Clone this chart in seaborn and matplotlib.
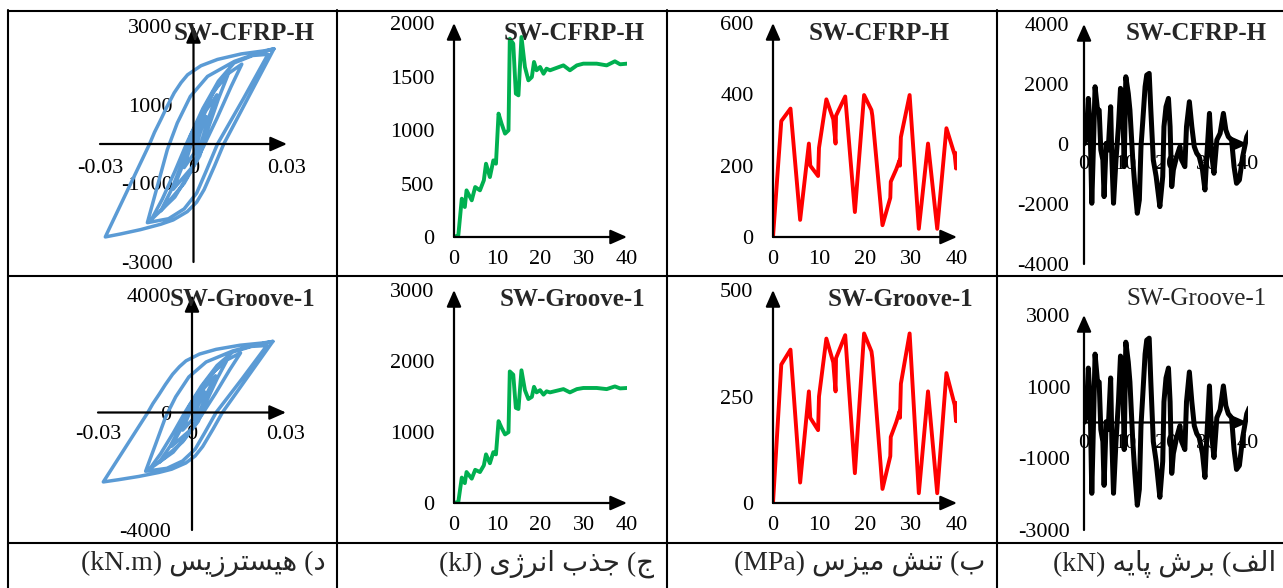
import matplotlib
matplotlib.use("Agg")
import matplotlib.pyplot as plt
from matplotlib.lines import Line2D
import seaborn as sns

# ---------------- data ----------------
titles_top = ["SW-CFRP-H", "SW-CFRP-H", "SW-CFRP-H", "SW-CFRP-H"]
titles_bottom = ["SW-Groove-1", "SW-Groove-1", "SW-Groove-1", "SW-Groove-1"]

# captions: (Persian label in logical order, unit)
caption_labels = ["د) هیسترزیس", "ج) جذب انرژی", "ب) تنش میزس", "الف) برش پایه"]
caption_units = ["(kN.m)", "(kJ)", "(MPa)", "(kN)"]

# hysteresis: drift vs moment (kN.m)
drift = [0, 0.002, 0.004, 0.002, 0.0005, -0.003, -0.0015, 0.0005,
         0.004, 0.0075, 0.005, 0.0025, 0, -0.0065, -0.004, -0.0015, 0.002,
         0.0065, 0.011, 0.008, 0.0045, 0.002, -0.003, -0.0105, -0.007, -0.0035, -0.001,
         0.004, 0.0095, 0.0155, 0.012, 0.0075, 0.003, -0.001, -0.006, -0.0135,
         -0.010, -0.006, -0.002, 0.003, 0.008, 0.013, 0.019, 0.0239,
         0.016, 0.0077, 0.004, 0.001, -0.003, -0.008, -0.0148,
         -0.0116, -0.0084, -0.0052, -0.001, 0.0045, 0.0131, 0.0196, 0.0258,
         0.0097, 0.0067, 0.0034, 0.001, -0.002, -0.0065, -0.0105, -0.017, -0.0234, -0.0283,
         -0.0141, -0.0125, -0.0105, -0.0085, -0.0062, -0.004, -0.0019, 0.0024, 0.0077,
         0.0153, 0.0228, 0.0258]
moment = [0, 400, 700, 250, -200, -600, -200, 300,
          850, 1250, 700, 50, -550, -1150, -650, 0, 650,
          1350, 1750, 1150, 350, -300, -1000, -1700, -1150, -450, 200,
          1000, 1700, 2030, 1450, 650, -100, -700, -1350, -1920,
          -1400, -700, 50, 900, 1600, 2060, 2250, 2280,
          1150, 0, -700, -1250, -1650, -1900, -2000,
          -1076, -144, 534, 1211, 1719, 2100, 2280, 2420,
          0, -567, -1160, -1480, -1720, -1930, -2040, -2177, -2287, -2363,
          0, 300, 618, 950, 1300, 1560, 1760, 1990, 2150,
          2290, 2370, 2420]

# energy absorption (kJ)
energy_step = [0, 1.0, 1.4, 1.8, 2.5, 2.9, 4.1, 4.9, 6.0, 6.9, 7.4, 8.3, 9.1, 9.7, 10.3, 11.0,
               11.8, 12.6, 12.9, 13.7, 14.3, 14.9, 15.6, 16.4, 17.2, 18.0, 18.5, 19.1, 19.9, 20.7,
               21.4, 22.2, 25.3, 26.8, 28.4, 29.9, 33.0, 35.3, 37.2, 38.4, 40.0]
energy = [0, 16, 187, 358, 280, 436, 343, 467, 436, 530, 685, 560, 716, 685, 1153, 1059,
          966, 997, 1853, 1807, 1340, 1324, 1869, 1589, 1464, 1495, 1636, 1558, 1589, 1526,
          1573, 1558, 1604, 1558, 1604, 1620, 1620, 1604, 1642, 1614, 1620]

# von Mises stress (MPa)
stress_step = [0, 1.8, 3.8, 5.9, 7.8, 8.1, 9.8, 10.0, 11.6, 13.1, 13.6, 13.7, 15.7, 17.8, 19.8,
               21.4, 21.6, 23.8, 25.5, 25.6, 26.8, 27.5, 27.6, 27.8, 29.7, 31.7, 33.7, 35.7,
               37.7, 39.5, 39.8, 39.8]
stress = [0, 325, 360, 48, 262, 200, 171, 250, 386, 330, 262, 340, 394, 70, 398,
          356, 340, 33, 110, 155, 190, 215, 200, 280, 398, 23, 262, 23,
          305, 230, 192, 235]

# base shear (kN)
shear_step = [0, 0.5, 1.06, 1.5, 1.9, 2.3, 2.7, 3.3, 3.7, 4.1, 4.6, 4.9, 5.4, 5.9, 6.5, 6.8,
              7.2, 7.8, 8.4, 8.9, 9.4, 9.8, 10.2, 10.8, 11.2, 11.9, 12.4, 13.0, 13.5, 13.9,
              14.3, 14.9, 15.3, 15.9, 16.3, 16.9, 17.6, 18.1, 18.5, 19.2, 19.5, 20.0, 20.6,
              21.0, 21.4, 21.8, 22.6, 23.4, 23.8, 24.6, 25.0, 25.7, 26.3, 26.9, 27.5, 28.1,
              28.9, 29.5, 29.9, 30.6, 31.1, 31.7, 32.4, 33.2, 34.0, 34.6, 35.2, 36.0, 36.6,
              37.2, 37.9, 38.7, 39.7, 40.3]
shear = [0, 130, 1520, 580, -1976, -90, 1909, 1130, 1130, -200, -530, -1754, 22, -200, 1243, -530,
         -1976, -530, 577, 1854, 1687, -755, 2242, 1687, 1130, -530, -1420, -2309, -1865, -90,
         690, 1910, 2298, 2354, 1130, -530, -1087, -1643, -2087, -1087, 577, 1243, 1520,
         577, -1420, -865, -420, -90, -530, -755, 577, 1410, 577, -90, -310, -420,
         -865, -1532, -530, 1021, -310, -977, 133, 355, 1021, 466, 244, 133, -755,
         -1310, -1200, -420, 244, 410]

# axis ranges and tick labels
hyst_xticks = [-0.03, 0, 0.03]
hyst_xlabels = ["-0.03", "0", "0.03"]
hyst_yticks_top = [-3000, -1000, 1000, 3000]
hyst_yticks_bottom = [-4000, 0, 4000]
step_ticks = [0, 10, 20, 30, 40]
energy_yticks_top = [0, 500, 1000, 1500, 2000]
energy_yticks_bottom = [0, 1000, 2000, 3000]
stress_yticks_top = [0, 200, 400, 600]
stress_yticks_bottom = [0, 250, 500]
shear_yticks_top = [-4000, -2000, 0, 2000, 4000]
shear_yticks_bottom = [-3000, -1000, 1000, 3000]

# ---------------- minimal Persian shaping (for display only) ----------------
FORMS = {
    'ا': ('\uFE8D', '\uFE8E', None, None),
    'ب': ('\uFE8F', '\uFE90', '\uFE91', '\uFE92'),
    'پ': ('\uFB56', '\uFB57', '\uFB58', '\uFB59'),
    'ت': ('\uFE95', '\uFE96', '\uFE97', '\uFE98'),
    'ج': ('\uFE9D', '\uFE9E', '\uFE9F', '\uFEA0'),
    'د': ('\uFEA9', '\uFEAA', None, None),
    'ذ': ('\uFEAB', '\uFEAC', None, None),
    'ر': ('\uFEAD', '\uFEAE', None, None),
    'ز': ('\uFEAF', '\uFEB0', None, None),
    'ژ': ('\uFB8A', '\uFB8B', None, None),
    'س': ('\uFEB1', '\uFEB2', '\uFEB3', '\uFEB4'),
    'ش': ('\uFEB5', '\uFEB6', '\uFEB7', '\uFEB8'),
    'ف': ('\uFED1', '\uFED2', '\uFED3', '\uFED4'),
    'ل': ('\uFEDD', '\uFEDE', '\uFEDF', '\uFEE0'),
    'م': ('\uFEE1', '\uFEE2', '\uFEE3', '\uFEE4'),
    'ن': ('\uFEE5', '\uFEE6', '\uFEE7', '\uFEE8'),
    'ه': ('\uFEE9', '\uFEEA', '\uFEEB', '\uFEEC'),
    'ی': ('\uFBFC', '\uFBFD', '\uFBFE', '\uFBFF'),
}


def dual(c):
    return c in FORMS and FORMS[c][2] is not None


def rtl_visual(text):
    out = []
    for i, c in enumerate(text):
        if c not in FORMS:
            out.append(c)
            continue
        prev = text[i - 1] if i > 0 else ''
        nxt = text[i + 1] if i + 1 < len(text) else ''
        jp = dual(prev)
        jn = dual(c) and nxt in FORMS
        iso, fin, ini, med = FORMS[c]
        if jp and jn:
            out.append(med)
        elif jp:
            out.append(fin)
        elif jn:
            out.append(ini)
        else:
            out.append(iso)
    mirror = {'(': ')', ')': '('}
    return ''.join(mirror.get(c, c) for c in reversed(out))


# ---------------- figure ----------------
sns.set_theme(style="white")
plt.rcParams['font.family'] = ['Liberation Serif', 'DejaVu Sans']
plt.rcParams['axes.unicode_minus'] = False

W, H = 1283, 588
fig = plt.figure(figsize=(W / 100, H / 100), dpi=100)
fig.patch.set_facecolor("white")


def add_ax(l, r, t, b):
    return fig.add_axes([l / W, 1 - b / H, (r - l) / W, (b - t) / H])


ARROW = dict(arrowstyle="-|>,head_length=0.5,head_width=0.22", color="black",
             lw=1.6, shrinkA=0, shrinkB=0, mutation_scale=20)


def panel(box, x, y, color, lw, xlim, ylim, xticks, xlabels, yticks, xpad, ypad,
          yfrom, xfrom):
    ax = add_ax(*box)
    sns.lineplot(x=x, y=y, sort=False, estimator=None, color=color, linewidth=lw,
                 ax=ax, zorder=3)
    ax.set_xlim(xlim)
    ax.set_ylim(ylim)
    ax.set_facecolor("none")
    ax.grid(False)
    for s in ax.spines.values():
        s.set_visible(False)
    ax.spines['left'].set_position(('data', 0))
    ax.spines['bottom'].set_position(('data', 0))
    ax.set_xticks(xticks, labels=xlabels)
    ax.set_yticks(yticks, labels=[str(v) for v in yticks])
    ax.tick_params(axis='x', length=0, pad=xpad, labelsize=16, labelcolor='black')
    ax.tick_params(axis='y', length=0, pad=ypad, labelsize=16, labelcolor='black')
    ax.set_xlabel("")
    ax.set_ylabel("")
    ax.annotate("", xy=(xlim[1], 0), xytext=(xfrom, 0), arrowprops=ARROW,
                annotation_clip=False, zorder=5)
    ax.annotate("", xy=(0, ylim[1]), xytext=(0, yfrom), arrowprops=ARROW,
                annotation_clip=False, zorder=5)
    return ax


BLUE, GREEN, RED, BLACK = "#5B9BD5", "#00B050", "#FF0000", "#000000"
step_labels = [str(v) for v in step_ticks]

# row 1 (SW-CFRP-H)
panel((100, 287, 26, 262), drift, moment, BLUE, 2.5, (-0.03, 0.03), (-3000, 3000),
      hyst_xticks, hyst_xlabels, hyst_yticks_top, 11, 15, -3000, -0.03)
panel((454, 627, 23, 237), energy_step, energy, GREEN, 2.8, (0, 40), (0, 2000),
      step_ticks, step_labels, energy_yticks_top, 9, 14, 0, 0)
panel((773, 957, 23, 237), stress_step, stress, RED, 2.8, (0, 40), (0, 600),
      step_ticks, step_labels, stress_yticks_top, 9, 14, 0, 0)
panel((1084, 1248, 24, 264), shear_step, shear, BLACK, 3.6, (0, 40), (-4000, 4000),
      step_ticks, step_labels, shear_yticks_top, 8, 11, -4000, 0)

# row 2 (SW-Groove-1)
panel((98, 286, 295, 530), drift, moment, BLUE, 2.5, (-0.03, 0.03), (-4000, 4000),
      hyst_xticks, hyst_xlabels, hyst_yticks_bottom, 9, 15, -4000, -0.03)
panel((454, 627, 290, 503), energy_step, energy, GREEN, 2.8, (0, 40), (0, 3000),
      step_ticks, step_labels, energy_yticks_bottom, 9, 14, 0, 0)
panel((773, 957, 290, 503), stress_step, stress, RED, 2.8, (0, 40), (0, 500),
      step_ticks, step_labels, stress_yticks_bottom, 9, 14, 0, 0)
panel((1084, 1248, 315, 530), shear_step, shear, BLACK, 3.6, (0, 40), (-3000, 3000),
      step_ticks, step_labels, shear_yticks_bottom, 8, 10, -3000, 0)


# titles
def ftext(px, py, s, **kw):
    fig.text(px / W, 1 - py / H, s, **kw)


top_right = [315, 645, 950, 1267]
bottom_right = [315, 645, 973, 1267]
for i in range(4):
    ftext(top_right[i], 33, titles_top[i], ha='right', va='center', fontsize=18,
          fontweight='bold', zorder=6)
    ftext(bottom_right[i], 299, titles_bottom[i], ha='right', va='center', fontsize=18,
          fontweight='bold' if i < 3 else 'normal', zorder=6)

# captions
cap_right = [326, 654, 985, 1276]
for i in range(4):
    s = caption_units[i] + " " + rtl_visual(caption_labels[i])
    ftext(cap_right[i], 564, s, ha='right', va='center', fontsize=20,
          family=['Liberation Serif', 'DejaVu Sans'])


# table lines
def hline(y, x0=8, x1=1283):
    fig.add_artist(Line2D([x0 / W, x1 / W], [1 - y / H, 1 - y / H],
                          transform=fig.transFigure, color='black', lw=1.5))


def vline(x, y0=10, y1=588):
    fig.add_artist(Line2D([x / W, x / W], [1 - y0 / H, 1 - y1 / H],
                          transform=fig.transFigure, color='black', lw=1.5))


hline(11)
hline(276)
hline(543)
for xv in [8, 337, 667, 997]:
    vline(xv)

fig.savefig("out.png", dpi=100)
